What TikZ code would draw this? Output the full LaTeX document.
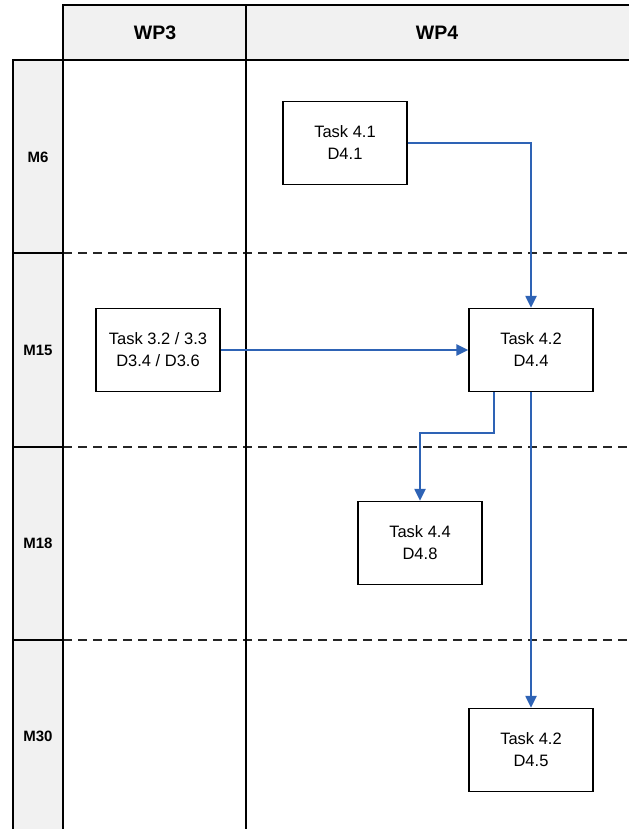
\documentclass[tikz,border=0pt]{standalone}
\usepackage{fontspec}
\setmainfont{Liberation Sans}
\usetikzlibrary{arrows.meta}
\definecolor{hdrgray}{HTML}{F1F1F1}
\definecolor{arrowblue}{HTML}{2E63B5}
\begin{document}
\begin{tikzpicture}[x=1pt,y=-1pt,
  frame/.style={draw=black,line width=2.2pt},
  thinframe/.style={draw=black,line width=1.5pt},
  task/.style={draw=black,line width=1.3pt,fill=white,minimum width=124pt,minimum height=83pt,inner sep=0pt,align=center,font=\fontsize{16.5}{22}\selectfont},
  hdrtext/.style={font=\fontsize{19.5}{23}\selectfont\bfseries},
  monthtext/.style={font=\fontsize{15}{18}\selectfont\bfseries},
  rowsep/.style={draw=black!85,line width=1.3pt,dash pattern=on 9pt off 6pt},
  arr/.style={draw=arrowblue,line width=2.2pt,-{Triangle[length=12pt,width=11pt]}}]
\useasboundingbox (0,0) rectangle (629,829);
% backgrounds
\fill[hdrgray] (63,5) rectangle (629,60);
\fill[hdrgray] (13,60) rectangle (63,829);
% dashed row separators
\draw[rowsep] (63,253) -- (629,253);
\draw[rowsep] (63,447) -- (629,447);
\draw[rowsep] (63,640) -- (629,640);
% frame
\draw[frame] (629,5) -- (63,5) -- (63,829);
\draw[frame] (246,5) -- (246,60);
\draw[frame] (13,829) -- (13,60) -- (629,60);
\draw[frame] (13,253) -- (63,253);
\draw[frame] (13,447) -- (63,447);
\draw[frame] (13,640) -- (63,640);
\draw[thinframe] (246,60) -- (246,829);
% header labels
\node[hdrtext] (wp3) at (155,33) {WP3};
\node[hdrtext] (wp4) at (437,33) {WP4};
% month labels
\node[monthtext] (m6) at (38,157) {M6};
\node[monthtext] (m15) at (38,350) {M15};
\node[monthtext] (m18) at (38,543) {M18};
\node[monthtext] (m30) at (38,736) {M30};
% tasks
\node[task] (t41) at (345,143) {Task 4.1\\D4.1};
\node[task] (t32) at (158,350) {Task 3.2 / 3.3\\D3.4 / D3.6};
\node[task] (t42) at (531,350) {Task 4.2\\D4.4};
\node[task] (t44) at (420,543) {Task 4.4\\D4.8};
\node[task] (t45) at (531,750) {Task 4.2\\D4.5};
% connectors
\draw[arr] (t41.east) -| (t42.north);
\draw[arr] (t32.east) -- (t42.west);
\draw[arr] ([xshift=-37pt]t42.south) -- ++(0,41) -| (t44.north);
\draw[arr] (t42.south) -- (t45.north);
\end{tikzpicture}
\end{document}
